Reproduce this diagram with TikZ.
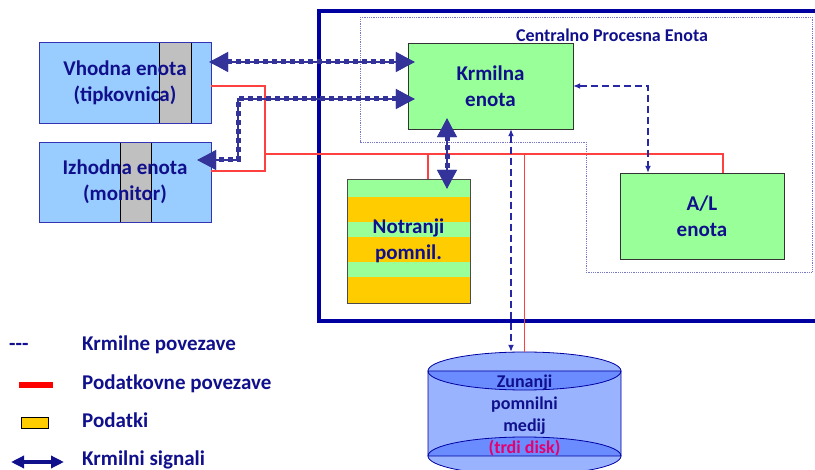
\documentclass[tikz,border=0pt]{standalone}
\usepackage{fontspec}
\setmainfont{Carlito}
\usetikzlibrary{arrows.meta}

\definecolor{txtblue}{RGB}{16,16,140}
\definecolor{framblue}{RGB}{0,0,160}
\definecolor{sigblue}{RGB}{51,51,153}
\definecolor{ctrlblue}{RGB}{40,40,165}
\definecolor{zoneblue}{RGB}{120,120,200}
\definecolor{datared}{RGB}{255,64,64}
\definecolor{unitgreen}{RGB}{153,255,153}
\definecolor{iobblue}{RGB}{153,204,255}
\definecolor{stripgray}{RGB}{192,192,192}
\definecolor{datayel}{RGB}{255,204,0}
\definecolor{disklight}{RGB}{153,179,255}
\definecolor{diskdark}{RGB}{106,140,255}
\definecolor{diskpink}{RGB}{230,0,110}

\begin{document}
\begin{tikzpicture}[x=1pt,y=-1pt,
  lbl/.style={text=txtblue,font=\fontsize{21}{26}\selectfont\bfseries,align=center},
  unit/.style={lbl,draw=black!80,fill=unitgreen,inner sep=0pt},
  iounit/.style={lbl,draw=framblue!80,inner sep=0pt,minimum width=172pt},
  sig/.style={draw=sigblue,line width=5pt,dash pattern=on 5pt off 4pt,
    {Triangle[length=19pt,width=19pt]}-{Triangle[length=19pt,width=19pt]},
    preaction={draw=sigblue,line width=1.2pt,solid}},
  ctrl/.style={draw=ctrlblue,line width=1.3pt,dash pattern=on 7pt off 4pt,
    {Latex[length=7pt,width=6pt]}-{Latex[length=7pt,width=6pt]}},
  data/.style={draw=datared,line width=1.5pt},
  legtext/.style={text=txtblue,font=\fontsize{21}{26}\selectfont\bfseries,anchor=base west,inner sep=0pt}]
  \useasboundingbox (0,0) rectangle (815,470);
  \clip (0,0) rectangle (815,470);

  % procesor
  \draw[framblue,line width=3.5pt] (319,11) rectangle (830,321);
  \draw[zoneblue,densely dotted,line width=0.8pt] (360,17) -- (812,17) -- (812,272) -- (586,272) -- (586,142) -- (360,142) -- cycle;
  \node[text=txtblue,font=\fontsize{18}{21}\selectfont\bfseries] (cpe) at (612,35) {Centralno Procesna Enota};

  % vhodna / izhodna enota
  \fill[iobblue] (39,42) rectangle (211,123);
  \draw[fill=stripgray] (159,42) rectangle (191,123);
  \node[iounit,minimum height=81pt] (vhodna) at (125,82.5) {Vhodna enota\\(tipkovnica)};
  \fill[iobblue] (39,142) rectangle (211,222);
  \draw[fill=stripgray] (120,142) rectangle (151,222);
  \node[iounit,minimum height=80pt] (izhodna) at (125,182) {Izhodna enota\\(monitor)};

  % notranji pomnilnik
  \fill[unitgreen] (347,179) rectangle (470,303);
  \foreach \ya/\yb in {197/222,237/262,277/303}
    \fill[datayel] (347,\ya) rectangle (470,\yb);
  \node[lbl,draw=black!70,inner sep=0pt,minimum width=123pt,minimum height=124pt] (pomnil) at (408.5,241) {Notranji\\pomnil.};

  \node[unit,minimum width=165pt,minimum height=86pt] (krmilna) at (490.5,86) {Krmilna\\enota};
  \node[unit,minimum width=164pt,minimum height=86pt] (alu) at (702,216) {A/L\\enota};

  % zunanji pomnilni medij
  \fill[disklight] (428,371) arc[start angle=180,end angle=360,x radius=96.5,y radius=19] -- (621,456)
    arc[start angle=0,end angle=180,x radius=96.5,y radius=19] -- cycle;
  \draw[framblue,line width=0.8pt,fill=diskdark] (428,371) arc[start angle=180,end angle=0,x radius=96.5,y radius=19] -- cycle;
  \draw[framblue,line width=0.8pt,fill=diskdark] (428,456) arc[start angle=180,end angle=360,x radius=96.5,y radius=19] -- cycle;
  \draw[framblue,line width=0.8pt] (428,456) -- (428,371) arc[start angle=180,end angle=360,x radius=96.5,y radius=19] -- (621,456)
    arc[start angle=0,end angle=180,x radius=96.5,y radius=19];
  \node[text=txtblue,font=\fontsize{18}{22.3}\selectfont\bfseries,align=center,minimum width=193pt,minimum height=127pt,inner sep=0pt] (disk) at (524.5,415.5)
    {Zunanji\\pomnilni\\medij\\\textcolor{diskpink}{(trdi disk)}};

  % podatkovne povezave
  \coordinate (bus) at (265,154);
  \draw[data] (vhodna.east |- 0,86) -| (bus) |- (izhodna.east |- 0,171);
  \draw[data] (bus) -| (alu.north -| 723,0);
  \draw[data] (bus -| 428,0) -- (pomnil.north -| 428,0);
  \draw[data] (bus -| 524.5,0) -- (disk.north);

  % krmilne povezave
  \draw[ctrl] (krmilna.east) -| (alu.north -| 648,0);
  \draw[ctrl] (krmilna.south -| 511,0) -- (disk.north -| 511,0);

  % krmilni signali
  \coordinate (bend) at (238,99);
  \draw[sig,shorten <=-2pt,shorten >=-7pt] (vhodna.east |- 0,62) -- (krmilna.west |- 0,62);
  \draw[sig,shorten <=-7pt,shorten >=-14pt] (krmilna.west |- bend) -- (bend) |- (izhodna.east |- 0,160);
  \draw[sig,shorten <=-11pt,shorten >=-10pt] (krmilna.south -| 447,0) -- (pomnil.north -| 447,0);

  % legenda
  \node[legtext] (lgdash) at (9,351) {-{}-{}-};
  \node[legtext] (lgctrl) at (82,351) {Krmilne povezave};
  \draw[red,line width=6pt] (19,385) -- (53,385);
  \node[legtext] (lgdata) at (82,390) {Podatkovne povezave};
  \draw[fill=datayel,line width=0.8pt] (21,417) rectangle (48,428);
  \node[legtext] (lgpod) at (82,428) {Podatki};
  \draw[txtblue,line width=4pt,{Triangle[length=13pt,width=12pt]}-{Triangle[length=13pt,width=12pt]}] (11,462) -- (64,462);
  \node[legtext] (lgsig) at (82,466) {Krmilni signali};
\end{tikzpicture}
\end{document}
